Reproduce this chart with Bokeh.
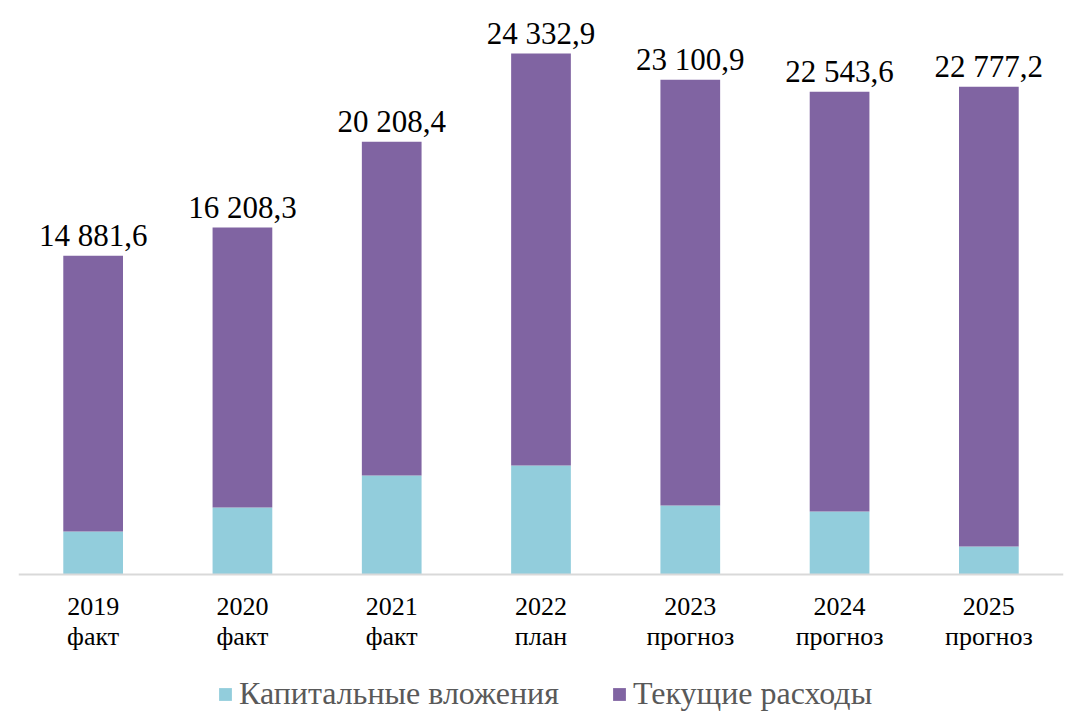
from bokeh.plotting import figure
from bokeh.models import FactorRange, Range1d, Legend, LegendItem, ColumnDataSource, Span
from bokeh.core.properties import value
from bokeh.embed import file_html
from bokeh.resources import INLINE

years = ["2019", "2020", "2021", "2022", "2023", "2024", "2025"]
status = ["факт", "факт", "факт", "план", "прогноз", "прогноз", "прогноз"]
totals = [14881.6, 16208.3, 20208.4, 24332.9, 23100.9, 22543.6, 22777.2]
capital = [2010, 3130, 4625, 5090, 3225, 2945, 1310]
current = [t - c for t, c in zip(totals, capital)]
series_names = ["Капитальные вложения", "Текущие расходы"]
colors = ["#92CDDC", "#8064A2"]

def fmt(v):
    s = f"{v:,.1f}"
    return s.replace(",", " ").replace(".", ",")

labels = [fmt(v) for v in totals]
zeros = [0] * len(years)

src = ColumnDataSource(dict(x=years, st=status, cap=capital, cur=current, tot=totals,
                            lab=labels, z=zeros))

FONT = "Liberation Serif"

p = figure(x_range=FactorRange(*years, range_padding=0), y_range=Range1d(-6585, 26806),
           frame_width=1045, frame_height=715, output_backend="svg", toolbar_location=None,
           min_border_left=18, min_border_right=1, min_border_top=0, min_border_bottom=0)
p.outline_line_color = None
p.xgrid.grid_line_color = None
p.ygrid.grid_line_color = None
p.yaxis.visible = False
p.xaxis.visible = False
p.background_fill_color = "white"

rs = p.vbar_stack(["cap", "cur"], x="x", width=0.4, source=src, color=colors, line_color=None)

p.add_layout(Span(location=0, dimension="width", line_color="#D9D9D9", line_width=2))

p.text(x="x", y="tot", text="lab", source=src, text_align="center", text_baseline="alphabetic",
       y_offset=-20, text_font=value(FONT), text_font_size="31px", text_color="black")

p.text(x="x", y="z", text="x", source=src, text_align="center", text_baseline="middle",
       y_offset=32, text_font=value(FONT), text_font_size="26px", text_color="black")
p.text(x="x", y="z", text="st", source=src, text_align="center", text_baseline="middle",
       y_offset=62, text_font=value(FONT), text_font_size="26px", text_color="black")

legend = Legend(items=[LegendItem(label=series_names[i], renderers=[rs[i]]) for i in range(2)],
                orientation="horizontal", location=(199, 3),
                label_text_font=FONT, label_text_font_size="32px", label_text_color="#595959",
                glyph_width=16, glyph_height=16, label_standoff=6, spacing=52,
                border_line_color=None, background_fill_alpha=0, margin=0, padding=0)
p.add_layout(legend, "center")

open("out.html", "w").write(file_html(p, INLINE))
